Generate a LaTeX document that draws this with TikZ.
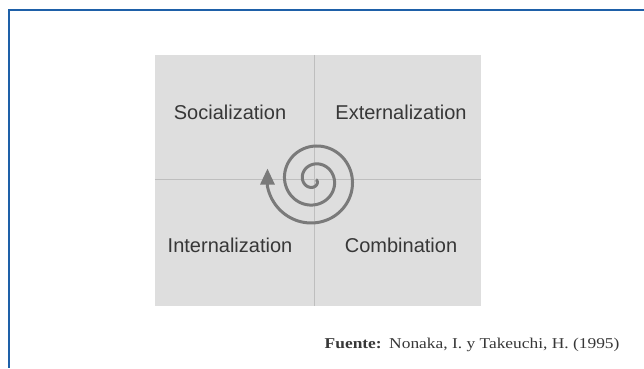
\documentclass[tikz,border=0pt]{standalone}
\usepackage{fontspec}
\setmainfont{Liberation Serif}
\newfontfamily\quadfont{Liberation Sans}
\newfontfamily\sourcefont[FakeStretch=1.16]{Liberation Serif}
\usepackage{xcolor}
\usepackage{tikz}
\usetikzlibrary{arrows.meta, positioning, calc}

\definecolor{framecol}{RGB}{30,96,168}
\definecolor{panelcol}{RGB}{222,222,222}
\definecolor{dividercol}{RGB}{190,190,190}
\definecolor{spiralcol}{RGB}{122,122,122}
\definecolor{textcol}{RGB}{55,55,55}

\begin{document}
\begin{tikzpicture}[
    x=1pt, y=1pt,
    frame/.style={draw=framecol, line width=2.5pt},
    panel/.style={rectangle, fill=panelcol, minimum width=326pt, minimum height=251pt, inner sep=0pt},
    divider/.style={draw=dividercol, line width=0.8pt},
    mode/.style={anchor=base, text=textcol, font=\quadfont\fontsize{20}{24}\selectfont},
    spiral/.style={draw=spiralcol, line width=3pt, -{Triangle[length=16pt, width=14pt]}},
    source/.style={anchor=base east, text=textcol, font=\sourcefont\fontsize{15}{18}\selectfont}
]
\useasboundingbox (0,0) rectangle (644,368);

% Blue frame (open at right and bottom)
\draw[frame] (644,358) -- (9,358) -- (9,0);

% SECI panel
\node[panel] (seci) at (318,187.5) {};
\coordinate (centre) at (314,188.5);
\draw[divider] (centre |- seci.north) -- (centre |- seci.south);
\draw[divider] (centre -| seci.west) -- (centre -| seci.east);

% Quadrant labels
\node[mode] (social) at (230,249) {Socialization};
\node[mode] (extern) at (401,249) {Externalization};
\node[mode] (intern) at (230,115.7) {Internalization};
\node[mode] (combin) at (401,115.7) {Combination};

% Spiral
\draw[spiral, shift={(314,188)}] plot[domain=40:940, samples=220, smooth] ({48-\x}:{\x/20}) -- ++(0,18);

% Source
\node[source] (fuente) at (623,20) {\textbf{Fuente:}\enspace Nonaka, I. y Takeuchi, H. (1995)};
\end{tikzpicture}
\end{document}
